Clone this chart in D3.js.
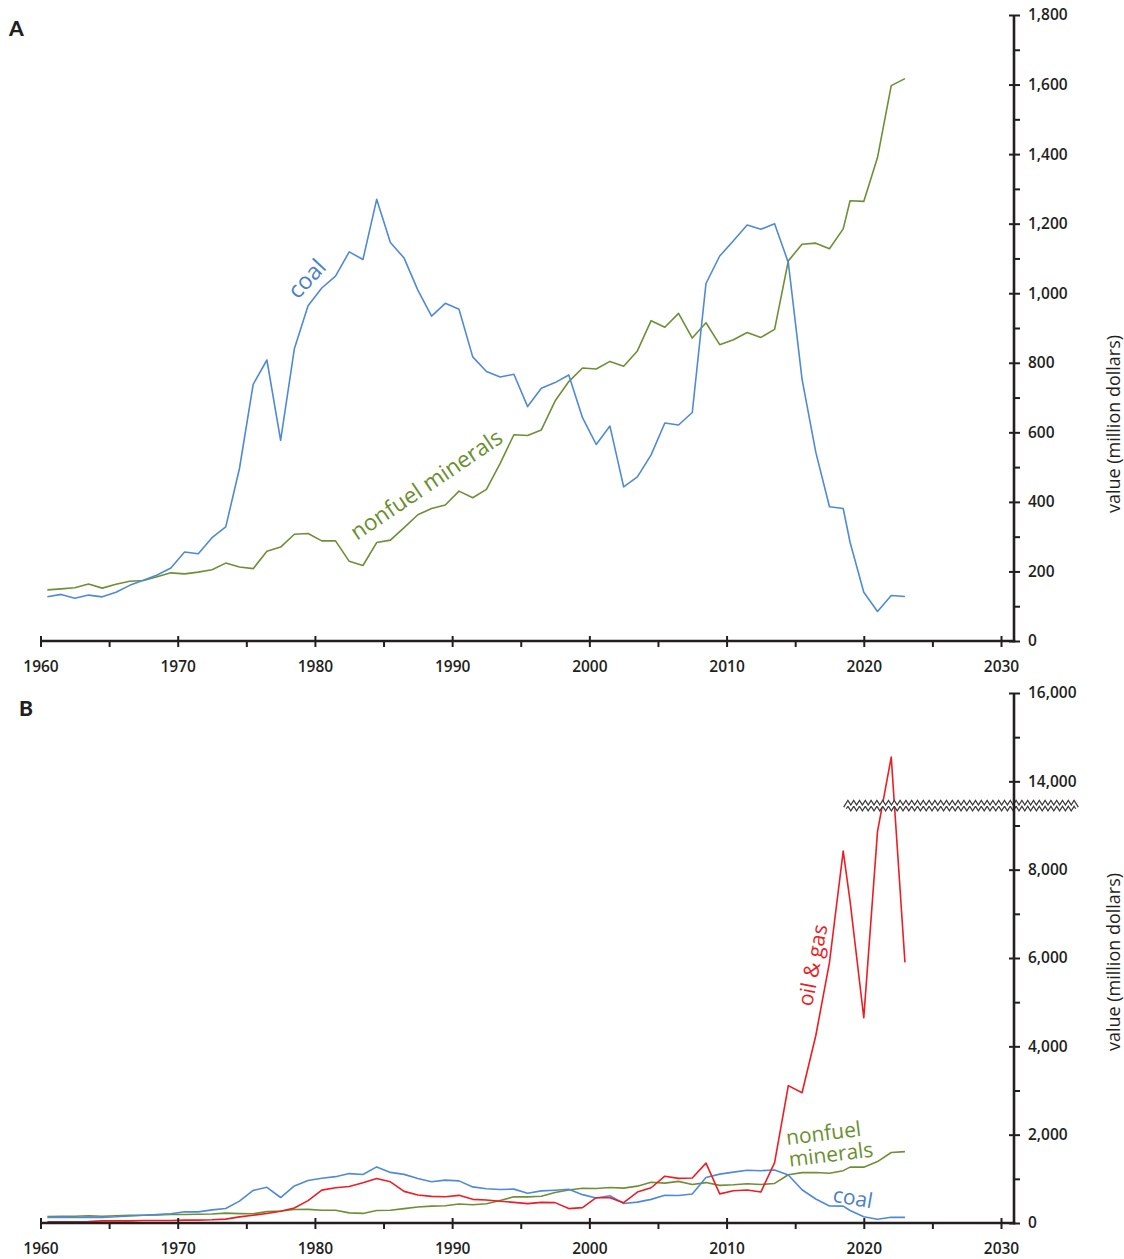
<!DOCTYPE html>
<html>
<head>
<meta charset="utf-8">
<script src="https://cdn.jsdelivr.net/npm/d3@7"></script>
<style>
  body { margin: 0; background: #fff; }
  svg { display: block; font-family: "Open Sans", sans-serif; }
  .axis text { font-family: "Open Sans", sans-serif; font-size: 15.5px; font-weight: 600; fill: #231f20; }
  .axis line { stroke: #231f20; stroke-width: 2; }
  .axis-line { stroke: #231f20; stroke-width: 2.6; fill: none; }
  .axis-title { font-size: 18px; fill: #231f20; }
  .panel-letter { font-family: "Lato", sans-serif; font-weight: 900; font-size: 21px; fill: #231f20; }
  .series { fill: none; stroke-width: 1.6; stroke-linejoin: round; }
  .series-label { font-size: 22px; font-weight: 500; }
</style>
</head>
<body>
<div id="chart"></div>
<script>
// x positions of the yearly values (calendar years at mid-year, then fiscal years)
const years = [
  1960.5, 1961.5, 1962.5, 1963.5, 1964.5, 1965.5, 1966.5, 1967.5, 1968.5, 1969.5,
  1970.5, 1971.5, 1972.5, 1973.5, 1974.5, 1975.5, 1976.5, 1977.5, 1978.5, 1979.5,
  1980.5, 1981.5, 1982.5, 1983.5, 1984.5, 1985.5, 1986.5, 1987.5, 1988.5, 1989.5,
  1990.5, 1991.5, 1992.5, 1993.5, 1994.5, 1995.5, 1996.5, 1997.5, 1998.5, 1999.5,
  2000.5, 2001.5, 2002.5, 2003.5, 2004.5, 2005.5, 2006.5, 2007.5, 2008.5, 2009.5,
  2010.5, 2011.5, 2012.5, 2013.5, 2014.5, 2015.5, 2016.5, 2017.5, 2018.5,
  2019, 2020, 2021, 2022, 2023
];

// values in million dollars
const coal = [
  127, 134, 123, 132, 127, 140, 160, 175, 190, 210,
  256, 251, 297, 328, 496, 738, 808, 577, 840, 964,
  1015, 1049, 1119, 1097, 1270, 1146, 1101, 1009, 934, 971,
  954, 817, 775, 759, 767, 674, 727, 743, 765, 642,
  565, 618, 443, 472, 535, 627, 621, 657, 1028, 1107,
  1151, 1196, 1184, 1200, 1088, 753, 543, 386, 381,
  284, 140, 85, 131, 128
];

const nonfuel = [
  147, 150, 153, 164, 152, 163, 172, 174, 185, 196,
  193, 198, 205, 224, 213, 208, 258, 270, 307, 309,
  288, 288, 229, 217, 283, 290, 326, 363, 381, 391,
  431, 412, 436, 511, 593, 591, 607, 690, 746, 785,
  782, 804, 790, 834, 921, 902, 942, 871, 915, 852,
  866, 887, 873, 896, 1093, 1141, 1144, 1128, 1185,
  1266, 1264, 1390, 1597, 1617
];

const oilGas = [
  27, 27, 27, 34, 49, 49, 49, 57, 57, 57,
  64, 64, 72, 87, 139, 176, 214, 266, 341, 506,
  745, 798, 828, 910, 1008, 933, 716, 633, 603, 596,
  626, 536, 521, 491, 468, 439, 468, 461, 326, 349,
  573, 573, 461, 701, 798, 1060, 1010, 1020, 1355, 660,
  731, 747, 701, 1365, 3110, 2950, 4240, 5900, 8420,
  7290, 4650, 8860, 14550, 5900
];

const xMajorTicks = [1960, 1970, 1980, 1990, 2000, 2010, 2020, 2030];
const xMinorTicks = [1965, 1975, 1985, 1995, 2005, 2015, 2025];
const aMajorTicks = [0, 200, 400, 600, 800, 1000, 1200, 1400, 1600, 1800];
const aMinorTicks = [100, 300, 500, 700, 900, 1100, 1300, 1500, 1700];
const bMajorTicks = [0, 2000, 4000, 6000, 8000, 14000, 16000];
const bMinorTicks = [1000, 3000, 5000, 7000, 9000, 15000];
// the B axis is cut between these two values
const bBreak = [9450, 13450];

const colors = { coal: "#4f8ad6", nonfuel: "#6d8f35", oilGas: "#ee1d24" };
const labelColors = { coal: "#4a7fc9", nonfuel: "#6b8f2f", oilGas: "#ee1d24" };

class TrendPanel {
  constructor(_config, _series) {
    this.config = _config;
    this.series = _series;
    this.initVis();
  }

  initVis() {
    let vis = this;
    const c = vis.config;

    vis.xScale = d3.scaleLinear().domain([1960, 2030]).range([c.left, c.right]);
    vis.yScale = d3.scaleLinear().domain(c.yDomain).range(c.yRange);

    vis.g = c.svg.append("g");

    // Series lines
    vis.line = d3.line()
      .x((d) => vis.xScale(d.year))
      .y((d) => vis.yScale(d.value));

    vis.series.forEach((s) => {
      const rows = years.map((yr, i) => ({ year: yr, value: s.values[i] }));
      vis.g.append("path")
        .attr("class", "series")
        .attr("stroke", s.color)
        .attr("d", vis.line(rows));
    });

    // Axis break marker
    if (c.breakAt) {
      const yb = vis.yScale(c.breakAt);
      const zig = d3.range(845, 1079, 2.9).map((x, i) => [x, yb + (i % 2 ? -2.3 : 2.3)]);
      const zigLine = d3.line();
      vis.g.append("path").attr("d", zigLine(zig))
        .attr("fill", "none").attr("stroke", "#3a3a3a").attr("stroke-width", 4.4);
      vis.g.append("path").attr("d", zigLine(zig))
        .attr("fill", "none").attr("stroke", "#fff").attr("stroke-width", 1.9);
    }

    vis.renderAxes();
  }

  renderAxes() {
    let vis = this;
    const c = vis.config;
    const y0 = vis.yScale(0);

    // x axis
    const xMajor = d3.axisBottom(vis.xScale).tickValues(xMajorTicks)
      .tickSize(6).tickPadding(14).tickFormat(d3.format("d"));
    const xMinor = d3.axisBottom(vis.xScale).tickValues(xMinorTicks)
      .tickSize(6).tickFormat("");

    const gx = vis.g.append("g").attr("class", "axis")
      .attr("transform", `translate(0,${y0})`).call(xMajor);
    gx.selectAll(".tick line").attr("y1", -5);
    gx.select(".domain").remove();
    const gxm = vis.g.append("g").attr("class", "axis")
      .attr("transform", `translate(0,${y0})`).call(xMinor);
    gxm.select(".domain").remove();

    vis.g.append("line").attr("class", "axis-line")
      .attr("x1", c.left).attr("x2", c.axisX + 1.3)
      .attr("y1", y0).attr("y2", y0);

    // y axis on the right
    const yMajor = d3.axisRight(vis.yScale).tickValues(c.majorTicks)
      .tickSize(6).tickPadding(8).tickFormat(d3.format(","));
    const yMinor = d3.axisRight(vis.yScale).tickValues(c.minorTicks)
      .tickSize(6).tickFormat("");

    const gy = vis.g.append("g").attr("class", "axis")
      .attr("transform", `translate(${c.axisX},0)`).call(yMajor);
    gy.selectAll(".tick line").attr("x1", -5);
    gy.select(".domain").remove();
    const gym = vis.g.append("g").attr("class", "axis")
      .attr("transform", `translate(${c.axisX},0)`).call(yMinor);
    gym.select(".domain").remove();

    vis.g.append("line").attr("class", "axis-line")
      .attr("x1", c.axisX).attr("x2", c.axisX)
      .attr("y1", vis.yScale(c.yDomain[c.yDomain.length - 1]))
      .attr("y2", y0 + 1.3);

    vis.g.append("text").attr("class", "axis-title")
      .attr("transform", `translate(1113,${c.titleY}) rotate(-90)`)
      .attr("text-anchor", "middle")
      .attr("dominant-baseline", "central")
      .text("value (million dollars)");

    vis.g.append("text").attr("class", "panel-letter")
      .attr("x", c.letterX).attr("y", c.letterY)
      .text(c.letter);
  }
}

const svg = d3.select("#chart").append("svg")
  .attr("width", 1124).attr("height", 1259);

// Panel A
new TrendPanel({
  svg: svg, left: 40.5, right: 1001, axisX: 1014,
  yDomain: [0, 1800], yRange: [641, 15],
  majorTicks: aMajorTicks, minorTicks: aMinorTicks,
  titleY: 424, letter: "A", letterX: 9, letterY: 36
}, [
  { values: nonfuel, color: colors.nonfuel },
  { values: coal, color: colors.coal }
]);

// Panel B (broken axis: the gap between bBreak values collapses)
const bBottom = 1223, bTop = 693;
const bStep = (bBottom - bTop) / 12000;
const bBreakY = bBottom - bBreak[0] * bStep;
new TrendPanel({
  svg: svg, left: 40.5, right: 1001, axisX: 1014,
  yDomain: [0, bBreak[0], bBreak[1], 16000],
  yRange: [bBottom, bBreakY, bBreakY, bTop],
  majorTicks: bMajorTicks, minorTicks: bMinorTicks, breakAt: bBreak[0],
  titleY: 962, letter: "B", letterX: 19, letterY: 716
}, [
  { values: nonfuel, color: colors.nonfuel },
  { values: coal, color: colors.coal },
  { values: oilGas, color: colors.oilGas }
]);

// Series labels
const labels = [
  { text: "coal", x: 306, y: 278, rot: -47, color: labelColors.coal, size: 23 },
  { text: "nonfuel minerals", x: 426, y: 484, rot: -34, color: labelColors.nonfuel, size: 22.5 },
  { text: "oil & gas", x: 812, y: 965, rot: -79, color: labelColors.oilGas, size: 21 },
  { text: "coal", x: 853, y: 1197, rot: 10, color: labelColors.coal, size: 21 }
];
labels.forEach((l) => {
  svg.append("text").attr("class", "series-label")
    .attr("transform", `translate(${l.x},${l.y}) rotate(${l.rot})`)
    .attr("text-anchor", "middle")
    .attr("dominant-baseline", "central")
    .attr("fill", l.color)
    .style("font-size", l.size + "px")
    .text(l.text);
});

const nm = svg.append("text").attr("class", "series-label")
  .attr("transform", "translate(787,1145) rotate(-7)")
  .attr("fill", labelColors.nonfuel)
  .style("font-size", "21px");
nm.append("tspan").attr("x", 0).attr("y", 0).text("nonfuel");
nm.append("tspan").attr("x", 0).attr("y", 22).text("minerals");
</script>
</body>
</html>
